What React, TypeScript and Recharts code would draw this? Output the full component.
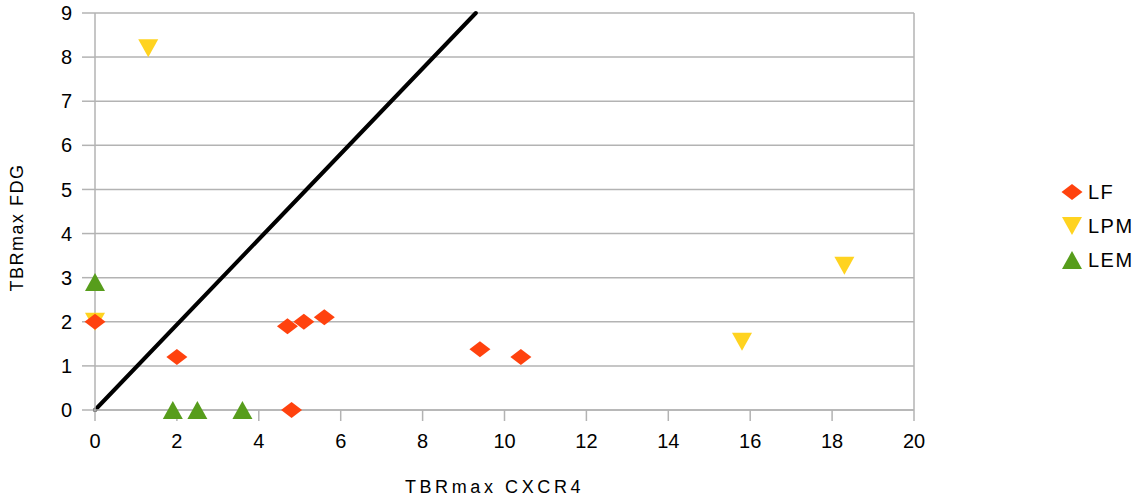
import { ScatterChart, Scatter, XAxis, YAxis, CartesianGrid, ReferenceLine, Label } from "recharts";

const xTicks = [0, 2, 4, 6, 8, 10, 12, 14, 16, 18, 20];
const yTicks = [0, 1, 2, 3, 4, 5, 6, 7, 8, 9];

const lfX = [0, 2, 4.7, 5.1, 5.6, 4.8, 9.4, 10.4];
const lfY = [2, 1.2, 1.9, 2.0, 2.1, 0, 1.38, 1.2];

const lpmX = [0, 1.3, 15.8, 18.3];
const lpmY = [2, 8.2, 1.55, 3.27];

const lemX = [0, 1.9, 2.5, 3.6];
const lemY = [2.9, 0, 0, 0];

const lineX = [0, 9.3];
const lineY = [0, 9];

const seriesNames = ["LF", "LPM", "LEM"];
const seriesColors = ["#ff420e", "#ffd320", "#579d1c"];

const toPoints = (xs: number[], ys: number[]) => xs.map((x, i) => ({ x, y: ys[i] }));

const lfData = toPoints(lfX, lfY);
const lpmData = toPoints(lpmX, lpmY);
const lemData = toPoints(lemX, lemY);
const lineSegment = toPoints(lineX, lineY);

const FONT = "'Liberation Sans', Arial, sans-serif";
const GRID = "#b3b3b3";

const Diamond = ({ cx, cy, fill }: any) => (
  <polygon points={`${cx - 10.5},${cy} ${cx},${cy - 8} ${cx + 10.5},${cy} ${cx},${cy + 8}`} fill={fill} />
);

const TriDown = ({ cx, cy, fill }: any) => (
  <polygon points={`${cx - 10},${cy - 9} ${cx + 10},${cy - 9} ${cx},${cy + 9}`} fill={fill} />
);

const TriUp = ({ cx, cy, fill }: any) => (
  <polygon points={`${cx - 10},${cy + 9} ${cx + 10},${cy + 9} ${cx},${cy - 9}`} fill={fill} />
);

const legendShapes = [Diamond, TriDown, TriUp];

export default function App() {
  return (
    <div style={{ position: "absolute", left: 0, top: 0, width: 1135, height: 502, fontFamily: FONT, background: "#fff", overflow: "hidden" }}>
      <ScatterChart width={1135} height={502} margin={{ top: 13, right: 221, left: 0, bottom: 0 }}>
        <CartesianGrid vertical={false} stroke={GRID} strokeWidth={1.5} />
        <XAxis
          type="number"
          dataKey="x"
          domain={[0, 20]}
          ticks={xTicks}
          interval={0}
          height={92}
          stroke={GRID}
          strokeWidth={1.5}
          tickSize={11}
          tickMargin={13}
          tick={{ fill: "#000", fontSize: 20, fontFamily: FONT }}
        >
          <Label
            value="TBRmax CXCR4"
            position="insideBottom"
            offset={9}
            dx={-10}
            style={{ fill: "#000", fontSize: 18, fontFamily: FONT, letterSpacing: 3.6 }}
          />
        </XAxis>
        <YAxis
          type="number"
          dataKey="y"
          domain={[0, 9]}
          ticks={yTicks}
          interval={0}
          width={95}
          stroke={GRID}
          strokeWidth={1.5}
          tickSize={13}
          tickMargin={10}
          tick={{ fill: "#000", fontSize: 20, fontFamily: FONT }}
        >
          <Label
            value="TBRmax FDG"
            angle={-90}
            position="insideLeft"
            offset={17}
            dy={16}
            style={{ fill: "#000", fontSize: 18, fontFamily: FONT, letterSpacing: 1.5, textAnchor: "middle" }}
          />
        </YAxis>
        <ReferenceLine x={20} stroke={GRID} strokeWidth={1.5} />
        <ReferenceLine segment={lineSegment} stroke="#000" strokeWidth={4} strokeLinecap="round" ifOverflow="visible" />
        <Scatter name="LPM" data={lpmData} fill={seriesColors[1]} shape={TriDown} isAnimationActive={false} />
        <Scatter name="LEM" data={lemData} fill={seriesColors[2]} shape={TriUp} isAnimationActive={false} />
        <Scatter name="LF" data={lfData} fill={seriesColors[0]} shape={Diamond} isAnimationActive={false} />
      </ScatterChart>
      <div style={{ position: "absolute", left: 1060, top: 175 }}>
        {seriesNames.map((name, i) => {
          const Shape = legendShapes[i];
          return (
            <div key={name} style={{ display: "flex", alignItems: "center", height: 34, whiteSpace: "nowrap" }}>
              <svg width={24} height={24} style={{ marginRight: 4 }}>
                <Shape cx={12} cy={12} fill={seriesColors[i]} />
              </svg>
              <span style={{ fontSize: 20, letterSpacing: 1.5, color: "#000" }}>{name}</span>
            </div>
          );
        })}
      </div>
    </div>
  );
}
